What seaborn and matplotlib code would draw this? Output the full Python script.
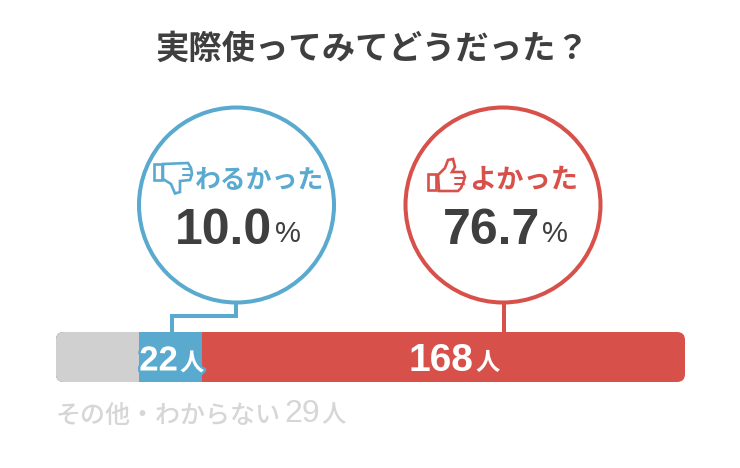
import matplotlib
matplotlib.use("Agg")
import matplotlib.pyplot as plt
import matplotlib.patheffects as pe
from matplotlib.patches import Circle, FancyBboxPatch, Polygon, Rectangle
import seaborn as sns

ROJO = "#D8504A"
AZUL = "#5AAACF"
GRIS = "#D0D0D0"
GRIS_TEXTO = "#D6D6D6"
OSCURO = "#3F3F3F"
FUENTE = ["Liberation Sans", "Noto Sans CJK JP", "DejaVu Sans"]


def dibujar_barra(fig, capa):
    """
    Barra apilada: se dibuja de mayor a menor acumulado
    """
    categorias = ["その他", "わるかった", "よかった"]
    personas = [29, 22, 168]
    colores = [GRIS, AZUL, ROJO]

    ax_barra = fig.add_axes([56 / 740, 1 - 382 / 468, 629 / 740, 50 / 468])
    borde = FancyBboxPatch((64, 340), 613, 34, boxstyle="round,pad=8",
                           transform=capa.transData)

    acumulado = [sum(personas[:i + 1]) for i in range(len(personas))]
    for i in reversed(range(len(categorias))):
        sns.barplot(x=[acumulado[i]], y=["total"], color=colores[i], saturation=1,
                    width=1, linewidth=0, ax=ax_barra)

    ax_barra.set_xlim(0, sum(personas))
    ax_barra.set_ylim(0.5, -0.5)
    ax_barra.axis("off")
    for barra in ax_barra.patches:
        barra.set_clip_path(borde)

    return ax_barra


def dibujar_globo(capa, cx, color, pregunta, tam, porcentaje, x_texto, x_num, x_pct):
    """
    Círculo con la pregunta y el porcentaje
    """
    capa.add_patch(Circle((cx, 205), 97.5, fc="white", ec=color, lw=2.9))
    capa.text(x_texto, 181, pregunta, color=color, fontsize=tam, fontweight="bold",
              family=FUENTE, ha="left", va="center")
    capa.text(x_num, 231, porcentaje, color=OSCURO, fontsize=36, fontweight="bold",
              family=FUENTE, ha="right", va="center")
    capa.text(x_pct, 234, "%", color=OSCURO, fontsize=21, family=FUENTE,
              ha="left", va="center")


def dibujar_pulgares(capa):
    # Pulgar abajo (azul)
    capa.add_patch(Rectangle((154, 163.5), 8, 16.5, fc="white", ec=AZUL, lw=1.9))
    abajo = [(163, 164), (188, 163), (191, 168), (192, 174), (190, 180), (180, 181),
             (180, 192), (175, 193.5), (171, 184), (163, 179)]
    capa.add_patch(Polygon(abajo, fc="white", ec=AZUL, lw=1.9))
    for y, x0 in [(169, 183), (175, 183)]:
        capa.plot([x0, 191], [y, y], color=AZUL, lw=1.5)
    # Pulgar arriba (rojo)
    capa.add_patch(Rectangle((428, 174), 8, 16, fc="white", ec=ROJO, lw=1.9))
    arriba = [(438, 175), (445, 168), (448, 160), (453, 159), (455, 167), (452, 172),
              (463, 172), (465, 177), (463, 183), (461, 188), (458, 191), (439, 191)]
    capa.add_patch(Polygon(arriba, fc="white", ec=ROJO, lw=1.9))
    for y, x0 in [(178, 455), (184, 455)]:
        capa.plot([x0, 464], [y, y], color=ROJO, lw=1.5)


def generar_grafico():
    sns.set_theme(style="white")

    fig = plt.figure(figsize=(7.4, 4.68), dpi=100)

    # Capa en píxeles para los globos y los textos
    capa = fig.add_axes([0, 0, 1, 1], zorder=3)
    capa.set_xlim(0, 740)
    capa.set_ylim(468, 0)
    capa.axis("off")

    dibujar_barra(fig, capa)

    # Conectores
    capa.plot([236, 236, 171.5, 171.5], [303, 315.5, 315.5, 332], color=AZUL, lw=2.9,
              solid_joinstyle="miter", solid_capstyle="butt")
    capa.plot([503.5, 503.5], [303, 332], color=ROJO, lw=2.9, solid_capstyle="butt")

    dibujar_globo(capa, 236.5, AZUL, "わるかった", 18.6, "10.0", 272, 272, 275)
    dibujar_globo(capa, 503, ROJO, "よかった", 19.6, "76.7", 469, 540, 542)
    capa.texts[0].set_x(195)
    dibujar_pulgares(capa)

    capa.text(372, 50, "実際使ってみてどうだった？", color=OSCURO, fontsize=24, fontweight="bold",
              family=FUENTE, ha="center", va="center")

    halo = [pe.withStroke(linewidth=3.5, foreground=AZUL)]
    capa.text(178, 361, "22", color="white", fontsize=25, fontweight="bold",
              family=FUENTE, ha="right", va="center", path_effects=halo)
    capa.text(180, 364, "人", color="white", fontsize=17.5, fontweight="bold",
              family=FUENTE, ha="left", va="center", path_effects=halo)
    capa.text(473, 361, "168", color="white", fontsize=28, fontweight="bold",
              family=FUENTE, ha="right", va="center")
    capa.text(475, 364, "人", color="white", fontsize=17.5, fontweight="bold",
              family=FUENTE, ha="left", va="center")

    capa.text(56, 416, "その他・わからない", color=GRIS_TEXTO, fontsize=18, family=FUENTE,
              fontweight="medium", ha="left", va="center")
    capa.text(284, 414, "29", color=GRIS_TEXTO, fontsize=23, family=FUENTE,
              ha="left", va="center")
    capa.text(321, 416, "人", color=GRIS_TEXTO, fontsize=17.5, family=FUENTE,
              fontweight="medium", ha="left", va="center")

    fig.savefig("out.png", dpi=100)


if __name__ == "__main__":
    generar_grafico()
